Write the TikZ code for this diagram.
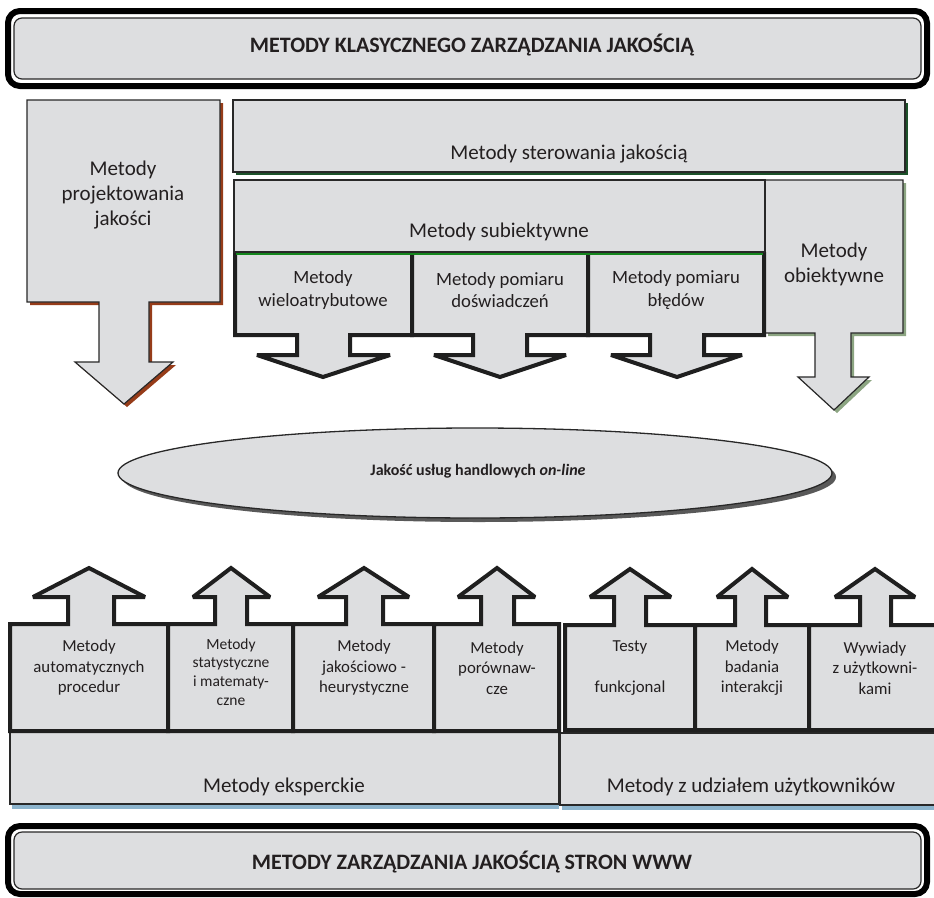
\documentclass[tikz,border=0pt]{standalone}
\usepackage{fontspec}
\setmainfont{Carlito}
\definecolor{boxgray}{RGB}{221,222,224}
\definecolor{redsh}{RGB}{150,60,25}
\definecolor{greensh}{RGB}{28,82,42}
\definecolor{sagesh}{RGB}{140,165,130}
\definecolor{bluesh}{RGB}{140,180,205}
\definecolor{edgec}{RGB}{40,40,40}
\definecolor{txt}{RGB}{35,31,32}
\begin{document}
\begin{tikzpicture}[x=1pt,y=-1pt,
  plain/.style={fill=boxgray,draw=edgec,line width=1.2},
  heavy/.style={fill=boxgray,draw=black!88,line width=4,line join=miter,miter limit=3},
  lbl/.style={align=center,text=txt,inner sep=0pt},
  big/.style={lbl,font=\fontsize{21}{25}\selectfont},
  mid/.style={lbl,font=\fontsize{18.7}{22.4}\selectfont},
  small/.style={lbl,font=\fontsize{16.8}{20.5}\selectfont},
  tiny/.style={lbl,font=\fontsize{15.5}{18.7}\selectfont},
  head/.style={lbl,font=\bfseries\fontsize{22}{26}\selectfont}]
\useasboundingbox (0,0) rectangle (934,897);

% ---- top header
\draw[line width=6,fill=white,rounded corners=12] (8,11) rectangle (927,86);
\draw[fill=boxgray,draw=edgec,line width=1.2,rounded corners=8] (14,18) rectangle (921,79);
\node[head] (hdrtop) at (472,45) {METODY KLASYCZNEGO ZARZĄDZANIA JAKOŚCIĄ};

% ---- left big arrow
\fill[redsh] (30,103) -- (223,103) -- (223,305) -- (152,305) -- (152,365) -- (176,365) -- (127,407) -- (78,365) -- (102,365) -- (102,305) -- (30,305) -- cycle;
\draw[plain] (27,100) -- (220,100) -- (220,302) -- (149,302) -- (149,362) -- (173,362) -- (124,404) -- (75,362) -- (99,362) -- (99,302) -- (27,302) -- cycle;
\node[big] (proj) at (123,195) {Metody\\projektowania\\jakości};

% ---- sterowania
\fill[greensh] (236,103) rectangle (908,175);
\draw[plain] (233,100) rectangle (905,172);
\node[big] (ster) at (569,154) {Metody sterowania jakością};

% ---- obiektywne
\fill[sagesh] (768,183) -- (906,183) -- (906,336) -- (854,336) -- (854,380) -- (872,380) -- (837,413) -- (801,380) -- (818,380) -- (818,336) -- (768,336) -- cycle;
\draw[plain] (765,180) -- (903,180) -- (903,333) -- (851,333) -- (851,377) -- (869,377) -- (834,410) -- (798,377) -- (815,377) -- (815,333) -- (765,333) -- cycle;
\node[big] (obj) at (834,264) {Metody\\obiektywne};

% ---- subiektywne
\draw[plain] (234,180) rectangle (765,252);
\node[big] (subj) at (499,232) {Metody subiektywne};

% ---- three sub-boxes with arrows
\path[heavy] (235,252) -- (235,335) -- (297,335) -- (297,355) -- (257,355) -- (323,377) -- (390,355) -- (350,355) -- (350,335) -- (412,335) -- (412,252);
\path[heavy] (412,252) -- (412,335) -- (473,335) -- (473,355) -- (434,355) -- (500,377) -- (566,355) -- (527,355) -- (527,335) -- (588,335) -- (588,252);
\path[heavy] (588,252) -- (588,335) -- (650,335) -- (650,355) -- (611,355) -- (677,377) -- (742,355) -- (704,355) -- (704,335) -- (764,335) -- (764,252);
\draw[greensh!70!green,line width=1.2] (236,254) -- (763,254);
\draw[edgec,line width=1.4] (233,252) -- (765,252);
\node[mid] (s1) at (323,290) {Metody\\wieloatrybutowe};
\node[mid] (s2) at (500,290) {Metody pomiaru\\doświadczeń};
\node[mid] (s3) at (676,290) {Metody pomiaru\\błędów};

% ---- central ellipse
\fill[black!65] (479,477) ellipse [x radius=357,y radius=45];
\draw[fill=boxgray,draw=edgec,line width=1.3] (475,473) ellipse [x radius=357,y radius=45];
\node[lbl,font=\bfseries\fontsize{16}{19}\selectfont] (q) at (478,471) {Jakość usług handlowych \textit{on-line}};

% ---- bottom base boxes
\fill[bluesh] (12,804) rectangle (559,809);
\fill[bluesh] (562,805) rectangle (934,810);
\draw[plain] (10,731) rectangle (559,804);
\draw[plain] (560,733) rectangle (945,805);
\node[big] (exp) at (284,787) {Metody eksperckie};
\node[big] (usr) at (751,787) {Metody z udziałem użytkowników};

% ---- lower boxes with arrows
\path[heavy] (10,731) -- (10,624) -- (68,624) -- (68,597) -- (33,597) -- (89,568) -- (145,597) -- (114,597) -- (114,624) -- (168,624) -- (168,731) -- cycle;
\path[heavy] (168,731) -- (168,624) -- (215,624) -- (215,597) -- (193,597) -- (231,568) -- (270,597) -- (247,597) -- (247,624) -- (293,624) -- (293,731) -- cycle;
\path[heavy] (293,731) -- (293,624) -- (346,624) -- (346,597) -- (318,597) -- (364,568) -- (409,597) -- (383,597) -- (383,624) -- (434,624) -- (434,731) -- cycle;
\path[heavy] (434,731) -- (434,624) -- (481,624) -- (481,597) -- (458,597) -- (497,568) -- (535,597) -- (514,597) -- (514,624) -- (559,624) -- (559,731) -- cycle;
\path[heavy] (565,730) -- (565,625) -- (614,625) -- (614,597) -- (590,597) -- (630,569) -- (671,597) -- (646,597) -- (646,625) -- (695,625) -- (695,730) -- cycle;
\path[heavy] (695,730) -- (695,625) -- (735,625) -- (735,597) -- (717,597) -- (752,569) -- (788,597) -- (766,597) -- (766,625) -- (809,625) -- (809,730) -- cycle;
\path[heavy] (809,730) -- (809,625) -- (860,625) -- (860,597) -- (835,597) -- (875,569) -- (915,597) -- (891,597) -- (891,625) -- (945,625) -- (945,730) -- cycle;

\node[small] (b1) at (89,668) {Metody\\automatycznych\\procedur};
\node[tiny] (b2) at (231,672) {Metody\\statystyczne\\i matematy-\\czne};
\node[small] (b3) at (364,668) {Metody\\jakościowo -\\heurystyczne};
\node[small] (b4) at (497,668) {Metody\\porównaw-\\cze};
\node[small] (b5) at (630,668) {Testy\\[20.5pt]funkcjonal};
\node[small] (b6) at (752,668) {Metody\\badania\\interakcji};
\node[small] (b7) at (875,668) {Wywiady\\z użytkowni-\\kami};

% ---- bottom header
\draw[line width=6,fill=white,rounded corners=12] (8,826) rectangle (927,894);
\draw[fill=boxgray,draw=edgec,line width=1.2,rounded corners=8] (14,832) rectangle (921,889);
\node[head] (hdrbot) at (472,862) {METODY ZARZĄDZANIA JAKOŚCIĄ STRON WWW};
\end{tikzpicture}
\end{document}
